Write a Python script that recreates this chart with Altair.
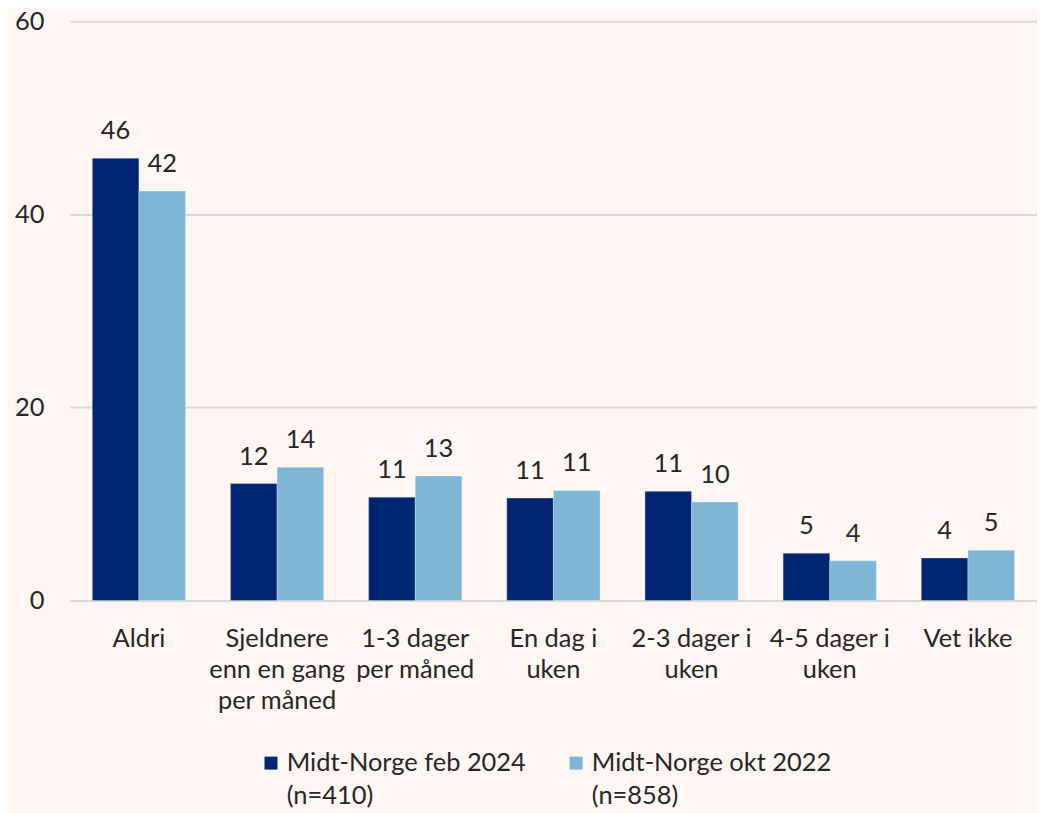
import altair as alt
import pandas as pd

categories = ["Aldri", "Sjeldnere enn en gang per måned", "1-3 dager per måned",
              "En dag i uken", "2-3 dager i uken", "4-5 dager i uken", "Vet ikke"]
axis_labels = ["Aldri", "Sjeldnere|enn en gang|per måned", "1-3 dager|per måned",
               "En dag i|uken", "2-3 dager i|uken", "4-5 dager i|uken", "Vet ikke"]
series = ["Midt-Norge feb 2024 (n=410)", "Midt-Norge okt 2022 (n=858)"]
series_labels = ["Midt-Norge feb 2024|(n=410)", "Midt-Norge okt 2022|(n=858)"]
values_2024 = [45.8, 12.1, 10.7, 10.6, 11.3, 4.9, 4.4]
values_2022 = [42.4, 13.8, 12.9, 11.4, 10.2, 4.1, 5.2]
colors = ["#002673", "#7fb5d5"]

rows = []
for i, c in enumerate(categories):
    rows.append({"cat": axis_labels[i], "series": series_labels[0], "value": values_2024[i]})
    rows.append({"cat": axis_labels[i], "series": series_labels[1], "value": values_2022[i]})
df = pd.DataFrame(rows)

FONT = "Lato"
TXT = "#262626"
FS = 25.5

x = alt.X("cat:N", sort=axis_labels, title=None,
          scale=alt.Scale(paddingInner=0.325, paddingOuter=0.1625),
          axis=alt.Axis(labelExpr="split(datum.label, '|')", labelAngle=0,
                        labelFontSize=FS, labelFont=FONT, labelColor=TXT,
                        labelLineHeight=31, labelPadding=26, labelBaseline="top",
                        ticks=False, domain=True, domainColor="#d9d9d9", domainWidth=2,
                        labelLimit=300))
y = alt.Y("value:Q", title=None,
          scale=alt.Scale(domain=[0, 60]),
          axis=alt.Axis(values=[0, 20, 40, 60], labelFontSize=FS, labelFont=FONT,
                        labelColor=TXT, labelPadding=26,
                        ticks=False, domain=False,
                        gridColor="#d9d9d9", gridWidth=2))
color = alt.Color("series:N", sort=series_labels,
                  scale=alt.Scale(domain=series_labels, range=colors),
                  legend=alt.Legend(title=None, orient="none", legendX=189, legendY=731,
                                    direction="horizontal", columns=2,
                                    labelExpr="split(datum.label, '|')",
                                    labelFontSize=FS, labelFont=FONT, labelColor=TXT,
                                    labelBaseline="middle",
                                    symbolType="square", symbolSize=169,
                                    symbolStrokeWidth=0, symbolOffset=0,
                                    labelOffset=3, columnPadding=37, labelLimit=400))

base = alt.Chart(df).encode(x=x, xOffset=alt.XOffset("series:N", sort=series_labels))

bars = base.mark_bar(stroke="white", strokeWidth=0.5, strokeOpacity=0.6).encode(y=y, color=color)
labels = base.mark_text(baseline="bottom", dy=-14, fontSize=FS, font=FONT, color=TXT).encode(
    y=alt.Y("value:Q"), text=alt.Text("value:Q", format=".0f"))

chart = (bars + labels).properties(
    width=970, height=581,
    autosize=alt.AutoSizeParams(type="none"),
    padding={"left": 62, "top": 12, "right": 0, "bottom": 212},
    background="#fdf6f3",
).configure(
    style={"guide-label": {"lineHeight": 33}}
).configure_view(stroke=None)

chart.save("out.html", embed_options={"renderer": "svg", "actions": False})
